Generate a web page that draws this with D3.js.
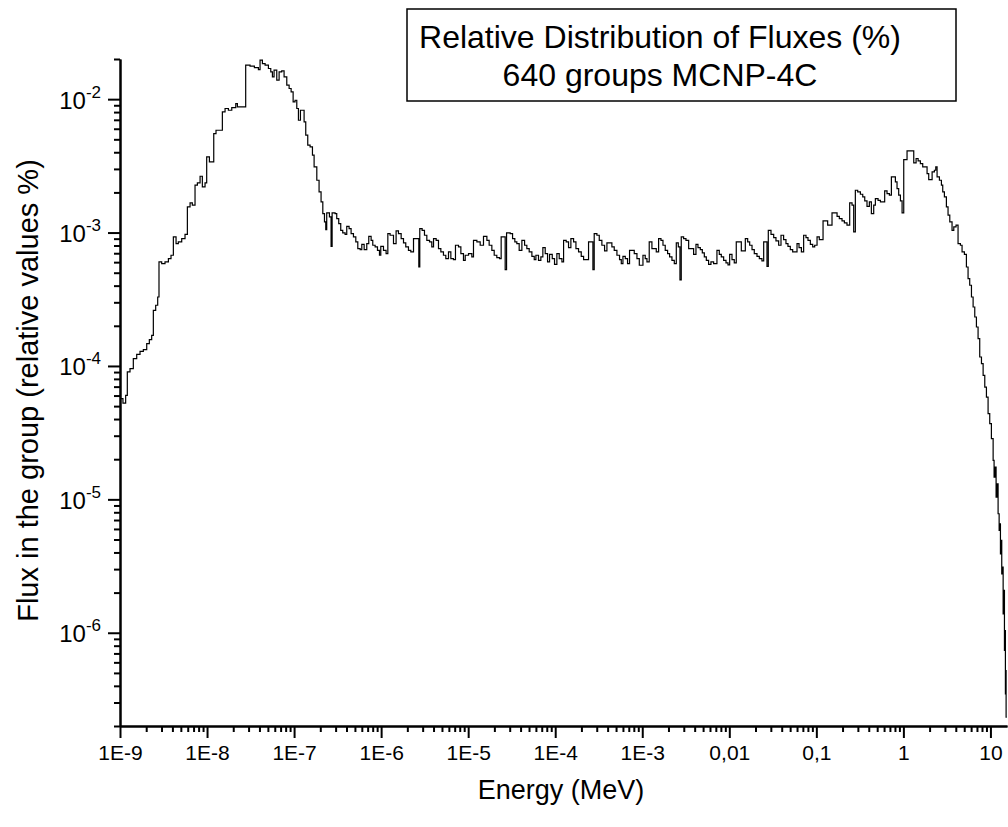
<!DOCTYPE html>
<html lang="en">
<head>
  <meta charset="utf-8">
  <title>Relative Distribution of Fluxes</title>
  <script src="https://d3js.org/d3.v7.min.js"></script>
  <style>
    html, body {
      margin: 0;
      padding: 0;
      background: #fff;
    }
    svg { display: block; font-family: "Liberation Sans", Arial, sans-serif; }
    .axis path, .axis line { stroke: #000; stroke-width: 2px; }
    .axis text { fill: #000; font-family: "Liberation Sans", Arial, sans-serif; }
    .flux { fill: none; stroke: #000; stroke-width: 1.2px; }
  </style>
</head>
<body>
  <svg id="chart" width="1008" height="827"></svg>

  <script>
    // decade exponent of the group's lower energy bound (MeV)
    const energyExp = [
      -9.000, -8.966, -8.935, -8.916, -8.885, -8.847, -8.808, -8.770, -8.732, -8.693,
      -8.663, -8.636, -8.617, -8.590, -8.567, -8.552, -8.521, -8.483, -8.444, -8.414,
      -8.387, -8.356, -8.330, -8.291, -8.253, -8.226, -8.195, -8.169, -8.138, -8.111,
      -8.080, -8.054, -8.023, -8.004, -7.973, -7.923, -7.897, -7.824, -7.793, -7.755,
      -7.716, -7.670, -7.651, -7.556, -7.506, -7.456, -7.410, -7.391, -7.364, -7.333,
      -7.295, -7.268, -7.249, -7.230, -7.199, -7.172, -7.142, -7.115, -7.084, -7.057,
      -7.034, -7.011, -6.989, -6.969, -6.950, -6.927, -6.885, -6.866, -6.843, -6.816,
      -6.789, -6.770,
      -6.739, -6.713, -6.690, -6.670, -6.651, -6.636, -6.625, -6.594, -6.575, -6.563,
      -6.529, -6.510, -6.487, -6.464, -6.441, -6.414, -6.395, -6.368, -6.345, -6.318,
      -6.291, -6.268, -6.241, -6.222, -6.195, -6.165, -6.142, -6.115, -6.096, -6.069,
      -6.042, -6.019, -6.004, -5.973, -5.943, -5.923, -5.897, -5.858, -5.828, -5.801,
      -5.770, -5.743, -5.717, -5.686, -5.659, -5.628, -5.567, -5.556, -5.529, -5.502,
      -5.475, -5.444, -5.418, -5.398, -5.368, -5.341, -5.314, -5.284, -5.257, -5.226,
      -5.199, -5.169, -5.146, -5.111, -5.084, -5.054, -5.034, -4.996, -4.958, -4.939,
      -4.900, -4.862, -4.824, -4.785, -4.759, -4.728, -4.701, -4.671, -4.640, -4.621,
      -4.575, -4.559, -4.517, -4.490, -4.464, -4.441, -4.414, -4.383, -4.352, -4.326,
      -4.299, -4.268, -4.241, -4.222, -4.192, -4.165, -4.142, -4.115, -4.088, -4.065,
      -4.034, -4.008, -3.981, -3.954, -3.923, -3.904, -3.874, -3.847, -3.820, -3.789,
      -3.762, -3.732, -3.701, -3.674, -3.617, -3.567, -3.552, -3.521, -3.494, -3.464,
      -3.433, -3.406, -3.349, -3.322, -3.291, -3.261,
      -3.241, -3.222, -3.195, -3.169, -3.146, -3.092, -3.061, -3.034, -2.992, -2.966,
      -2.946, -2.920, -2.889, -2.839, -2.812, -2.785, -2.762, -2.736, -2.709, -2.686,
      -2.659, -2.632, -2.609, -2.586, -2.567, -2.552, -2.525, -2.498, -2.467, -2.410,
      -2.383, -2.360, -2.333, -2.310, -2.287, -2.264, -2.238, -2.211, -2.180, -2.142,
      -2.115, -2.092, -2.065, -2.038, -2.015, -1.996, -1.969, -1.943, -1.920, -1.862,
      -1.816, -1.789, -1.766, -1.739, -1.713, -1.682, -1.655, -1.625, -1.605, -1.567,
      -1.552, -1.521, -1.490, -1.464, -1.433, -1.406, -1.376, -1.349, -1.326, -1.299,
      -1.272, -1.222, -1.199, -1.172, -1.146, -1.119, -1.096, -1.069, -1.042, -1.019,
      -0.992, -0.966, -0.923, -0.870, -0.820, -0.762, -0.736, -0.705, -0.678, -0.648,
      -0.617, -0.590, -0.571, -0.552, -0.525, -0.494, -0.467, -0.444, -0.418, -0.391,
      -0.368, -0.341, -0.322, -0.291, -0.264, -0.215, -0.188, -0.161, -0.138, -0.092,
      -0.073, -0.054, -0.034, -0.015, 0.004, 0.042, 0.119, 0.146, 0.169, 0.195,
      0.222, 0.272, 0.291,
      0.330, 0.356, 0.372, 0.387, 0.414, 0.437, 0.452, 0.471, 0.494, 0.513,
      0.533, 0.559, 0.579, 0.605, 0.628, 0.655, 0.674, 0.701, 0.724, 0.743,
      0.762, 0.782, 0.801, 0.820, 0.839, 0.858, 0.877, 0.897, 0.916, 0.935,
      0.954, 0.973, 0.992, 1.011, 1.031, 1.042, 1.054, 1.065, 1.077, 1.088,
      1.100, 1.107, 1.115, 1.123, 1.130, 1.138, 1.146, 1.153, 1.161, 1.169,
      1.172, 1.176, 1.180
    ];
    // decade exponent of the relative flux in each group (%)
    const fluxExp = [
      -4.245, -4.278, -4.220, -4.045, -4.020, -3.945, -3.913, -3.890, -3.878, -3.833,
      -3.803, -3.770, -3.583, -3.545, -3.483, -3.220, -3.233, -3.220, -3.195, -3.170,
      -3.033, -3.083, -3.070, -3.045, -3.013, -2.808, -2.778, -2.795, -2.645, -2.628,
      -2.578, -2.658, -2.628, -2.433, -2.470, -2.258, -2.233, -2.095, -2.070, -2.083,
      -2.063, -2.033, -2.058, -1.745, -1.753, -1.763, -1.778, -1.708, -1.733, -1.745,
      -1.770, -1.795, -1.833, -1.783, -1.858, -1.795, -1.788, -1.833, -1.895, -1.920,
      -1.945, -2.020, -2.008, -2.070, -2.158, -2.083, -2.170, -2.270, -2.345, -2.358,
      -2.420, -2.508,
      -2.608, -2.695, -2.770, -2.858, -2.920, -2.978, -2.853, -2.883, -3.103, -2.853,
      -2.858, -2.895, -2.933, -2.983, -3.003, -3.013, -2.953, -2.970, -3.008, -3.033,
      -3.070, -3.120, -3.128, -3.088, -3.128, -3.083, -3.028, -3.058, -3.095, -3.108,
      -3.133, -3.170, -3.103, -3.133, -3.158, -3.008, -3.020, -3.083, -2.988, -3.008,
      -3.045, -3.078, -3.108, -3.133, -3.145, -3.045, -3.258, -2.970, -2.983, -3.020,
      -3.058, -3.070, -3.108, -3.045, -3.058, -3.120, -3.145, -3.170, -3.195, -3.145,
      -3.195, -3.203, -3.095, -3.108, -3.158, -3.208, -3.170, -3.158, -3.183, -3.058,
      -3.070, -3.095, -3.028, -3.058, -3.095, -3.133, -3.170, -3.188, -3.195, -3.033,
      -3.278, -3.003, -3.008, -3.045, -3.070, -3.083, -3.133, -3.058, -3.095, -3.120,
      -3.145, -3.178, -3.203, -3.170, -3.208, -3.183, -3.113, -3.158, -3.220, -3.163,
      -3.195, -3.238, -3.158, -3.195, -3.220, -3.058, -3.070, -3.113, -3.045, -3.070,
      -3.120, -3.145, -3.178, -3.203, -3.070, -3.278, -3.008, -3.020, -3.058, -3.095,
      -3.138, -3.078, -3.108, -3.133, -3.170, -3.203,
      -3.233, -3.178, -3.195, -3.233, -3.133, -3.158, -3.195, -3.245, -3.170, -3.195,
      -3.220, -3.070, -3.120, -3.145, -3.045, -3.058, -3.095, -3.133, -3.158, -3.183,
      -3.208, -3.233, -3.078, -3.108, -3.355, -3.033, -3.045, -3.058, -3.120, -3.163,
      -3.088, -3.113, -3.128, -3.153, -3.183, -3.208, -3.238, -3.220, -3.233, -3.133,
      -3.163, -3.183, -3.208, -3.228, -3.243, -3.163, -3.203, -3.228, -3.070, -3.138,
      -3.045, -3.070, -3.095, -3.128, -3.158, -3.178, -3.195, -3.213, -3.070, -3.253,
      -2.983, -3.013, -3.038, -3.063, -3.095, -3.020, -3.053, -3.083, -3.103, -3.128,
      -3.145, -3.083, -3.113, -3.145, -3.020, -3.038, -3.058, -3.088, -3.108, -3.095,
      -3.033, -3.053, -2.913, -2.945, -2.853, -2.878, -2.895, -2.913, -2.928, -2.945,
      -2.778, -2.795, -2.995, -2.683, -2.695, -2.713, -2.733, -2.763, -2.803, -2.770,
      -2.858, -2.795, -2.745, -2.758, -2.770, -2.688, -2.708, -2.720, -2.583, -2.620,
      -2.670, -2.720, -2.763, -2.853, -2.453, -2.388, -2.478, -2.445, -2.463, -2.483,
      -2.508, -2.558, -2.603,
      -2.545, -2.533, -2.508, -2.583, -2.608, -2.645, -2.695, -2.733, -2.808, -2.870,
      -2.920, -2.983, -2.958, -2.945, -3.083, -3.095, -3.145, -3.163, -3.258, -3.345,
      -3.395, -3.483, -3.558, -3.633, -3.708, -3.795, -3.933, -3.983, -4.070, -4.158,
      -4.233, -4.358, -4.433, -4.545, -4.708, -4.833, -4.758, -4.983, -4.883, -5.108,
      -5.233, -5.183, -5.408, -5.308, -5.558, -5.508, -5.858, -5.683, -6.133, -5.983,
      -6.458, -6.283, -6.633
    ];
    const energyTopExp = 1.188;   // upper bound of the last group

    const xTickExp = [-9, -8, -7, -6, -5, -4, -3, -2, -1, 0, 1];
    const xTickLabels = ['1E-9', '1E-8', '1E-7', '1E-6', '1E-5', '1E-4', '1E-3', '0,01', '0,1', '1', '10'];
    const yTickExp = [-2, -3, -4, -5, -6];

    const xDomain = [1e-9, 15.5];
    const yDomain = [2e-7, 2e-2];

    const margin = { top: 59, left: 120 };
    const width = 887, height = 667;

    const svg = d3.select('#chart');
    const g = svg.append('g').attr('transform', `translate(${margin.left},${margin.top})`);

    const x = d3.scaleLog().domain(xDomain).range([0, width]);
    const y = d3.scaleLog().domain(yDomain).range([height, 0]);

    // step data (left edge + final right edge)
    const data = energyExp.map((e, i) => ({ e: Math.pow(10, e), f: Math.pow(10, fluxExp[i]) }));
    data.push({ e: Math.pow(10, energyTopExp), f: data[data.length - 1].f });

    // minor ticks 2..9 per decade
    function minorTicks(domain) {
      const out = [];
      const lo = Math.floor(Math.log10(domain[0])), hi = Math.ceil(Math.log10(domain[1]));
      for (let p = lo; p <= hi; p++) {
        for (let m = 2; m <= 9; m++) {
          const v = m * Math.pow(10, p);
          if (v >= domain[0] * 0.999 && v <= domain[1] * 1.001) out.push(v);
        }
      }
      return out;
    }

    // x axis
    g.append('g').attr('class', 'axis')
      .attr('transform', `translate(0,${height})`)
      .call(d3.axisBottom(x).tickValues(minorTicks(xDomain)).tickSize(6).tickSizeOuter(0).tickFormat(''));
    g.append('g').attr('class', 'axis')
      .attr('transform', `translate(0,${height})`)
      .call(d3.axisBottom(x).tickValues(xTickExp.map(p => Math.pow(10, p)))
        .tickSize(12).tickSizeOuter(0).tickPadding(7)
        .tickFormat((d, i) => xTickLabels[i]))
      .selectAll('text').style('font-size', '21px');

    // y axis
    g.append('g').attr('class', 'axis')
      .call(d3.axisLeft(y).tickValues(minorTicks(yDomain)).tickSize(6).tickSizeOuter(0).tickFormat(''));
    const yAx = g.append('g').attr('class', 'axis')
      .call(d3.axisLeft(y).tickValues(yTickExp.map(p => Math.pow(10, p)))
        .tickSize(12).tickSizeOuter(0).tickFormat(''));
    yAx.selectAll('.tick').each(function(d, i) {
      const t = d3.select(this).append('text')
        .attr('x', -19).attr('y', 9)
        .attr('text-anchor', 'end')
        .style('font-size', '24px');
      t.append('tspan').text('10');
      t.append('tspan').attr('dy', -11).style('font-size', '17px').text(String(yTickExp[i]));
    });

    // flux histogram
    const line = d3.line()
      .curve(d3.curveStepAfter)
      .x(d => x(d.e))
      .y(d => y(d.f));
    g.append('path').datum(data).attr('class', 'flux').attr('d', line);

    // axis titles
    svg.append('text')
      .attr('x', 561).attr('y', 799)
      .attr('text-anchor', 'middle')
      .style('font-size', '27px')
      .text('Energy (MeV)');
    svg.append('text')
      .attr('transform', `translate(38,${margin.top + height / 2 - 2}) rotate(-90)`)
      .attr('text-anchor', 'middle')
      .style('font-size', '29px')
      .text('Flux in the group (relative values %)');

    // legend box
    const leg = svg.append('g');
    leg.append('rect')
      .attr('x', 407).attr('y', 9).attr('width', 549).attr('height', 92)
      .attr('fill', '#fff').attr('stroke', '#000').attr('stroke-width', 1.5);
    leg.append('text').attr('x', 660).attr('y', 48)
      .attr('text-anchor', 'middle')
      .style('font-size', '32px').text('Relative Distribution of Fluxes (%)');
    leg.append('text').attr('x', 660).attr('y', 86)
      .attr('text-anchor', 'middle')
      .style('font-size', '32px').text('640 groups MCNP-4C');
  </script>
</body>
</html>
